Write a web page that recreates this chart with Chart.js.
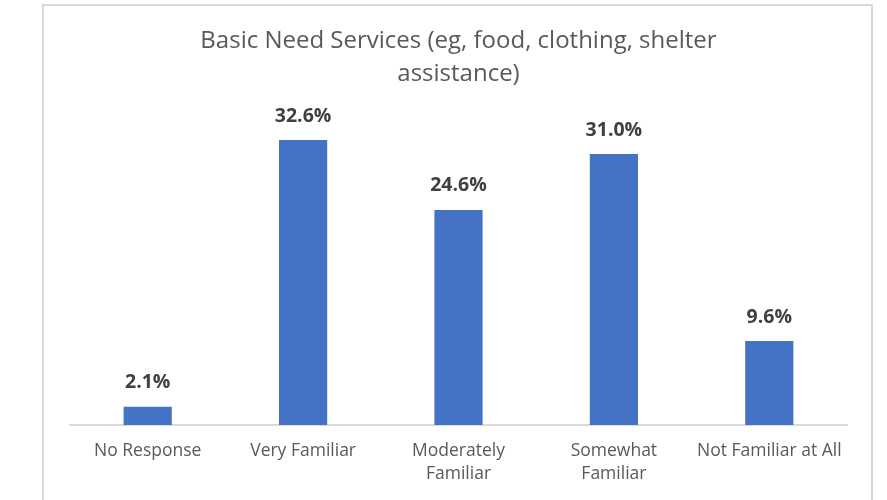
<!DOCTYPE html>
<html>
<head>
<meta charset="utf-8">
<script src="https://cdn.jsdelivr.net/npm/chart.js@4.4.0/dist/chart.umd.min.js"></script>
<style>
  html, body { margin: 0; padding: 0; background: #ffffff; }
  #wrap { position: relative; width: 887px; height: 500px; overflow: hidden; }
  #frame { position: absolute; left: 42px; top: 4px; width: 827px; height: 520px; border: 2px solid #d9d9d9; }
  #chartBox { position: absolute; left: 0; top: 0; width: 887px; height: 500px; }
</style>
</head>
<body>
<div id="wrap">
  <div id="frame"></div>
  <div id="chartBox"><canvas id="barChart"></canvas></div>
</div>
<script>
// 응답 항목
var categories = ['No Response', 'Very Familiar', ['Moderately', 'Familiar'], ['Somewhat', 'Familiar'], 'Not Familiar at All'];
// 응답 비율 (%)
var percentValues = [2.1, 32.6, 24.6, 31.0, 9.6];
var titleLines = ['Basic Need Services (eg, food, clothing, shelter', 'assistance)'];

var fontName = '"Open Sans", sans-serif';

// 막대 위에 % 값 표시
var valueLabelPlugin = {
  id: 'valueLabels',
  afterDatasetsDraw: function(chart){
    var ctx = chart.ctx;
    var meta = chart.getDatasetMeta(0);
    ctx.save();
    ctx.font = 'bold 19.5px ' + fontName;
    ctx.fillStyle = '#404040';
    ctx.textAlign = 'center';
    ctx.textBaseline = 'middle';
    meta.data.forEach(function(bar, i){
      ctx.fillText(percentValues[i].toFixed(1) + '%', bar.x, bar.y - 24);
    });
    ctx.restore();
  }
};

var chartData = {
  labels: categories,
  datasets: [{
    data: percentValues,
    backgroundColor: '#4472c4',
    barPercentage: 1,
    categoryPercentage: 0.31
  }]
};

var chartOptions = {
  responsive: true,
  maintainAspectRatio: false,
  animation: false,
  layout: { padding: { left: 70, right: 40, top: 0, bottom: 0 } },
  plugins: {
    legend: { display: false },
    tooltip: { enabled: false },
    title: {
      display: true,
      text: titleLines,
      color: '#595959',
      font: { family: fontName, size: 24, weight: 'normal', lineHeight: 1.375 },
      padding: { top: 25, bottom: 28 }
    }
  },
  scales: {
    x: {
      grid: { display: false, drawTicks: false },
      border: { display: true, color: '#d9d9d9', width: 2 },
      ticks: { color: '#595959', font: { family: fontName, size: 17.5, lineHeight: 1.3 }, padding: 15, maxRotation: 0 },
      afterFit: function(scale){ scale.height = 75; }
    },
    y: {
      display: false,
      min: 0,
      max: 35
    }
  }
};

new Chart(document.getElementById('barChart'), {
  type: 'bar',
  data: chartData,
  options: chartOptions,
  plugins: [valueLabelPlugin]
});
</script>
</body>
</html>
